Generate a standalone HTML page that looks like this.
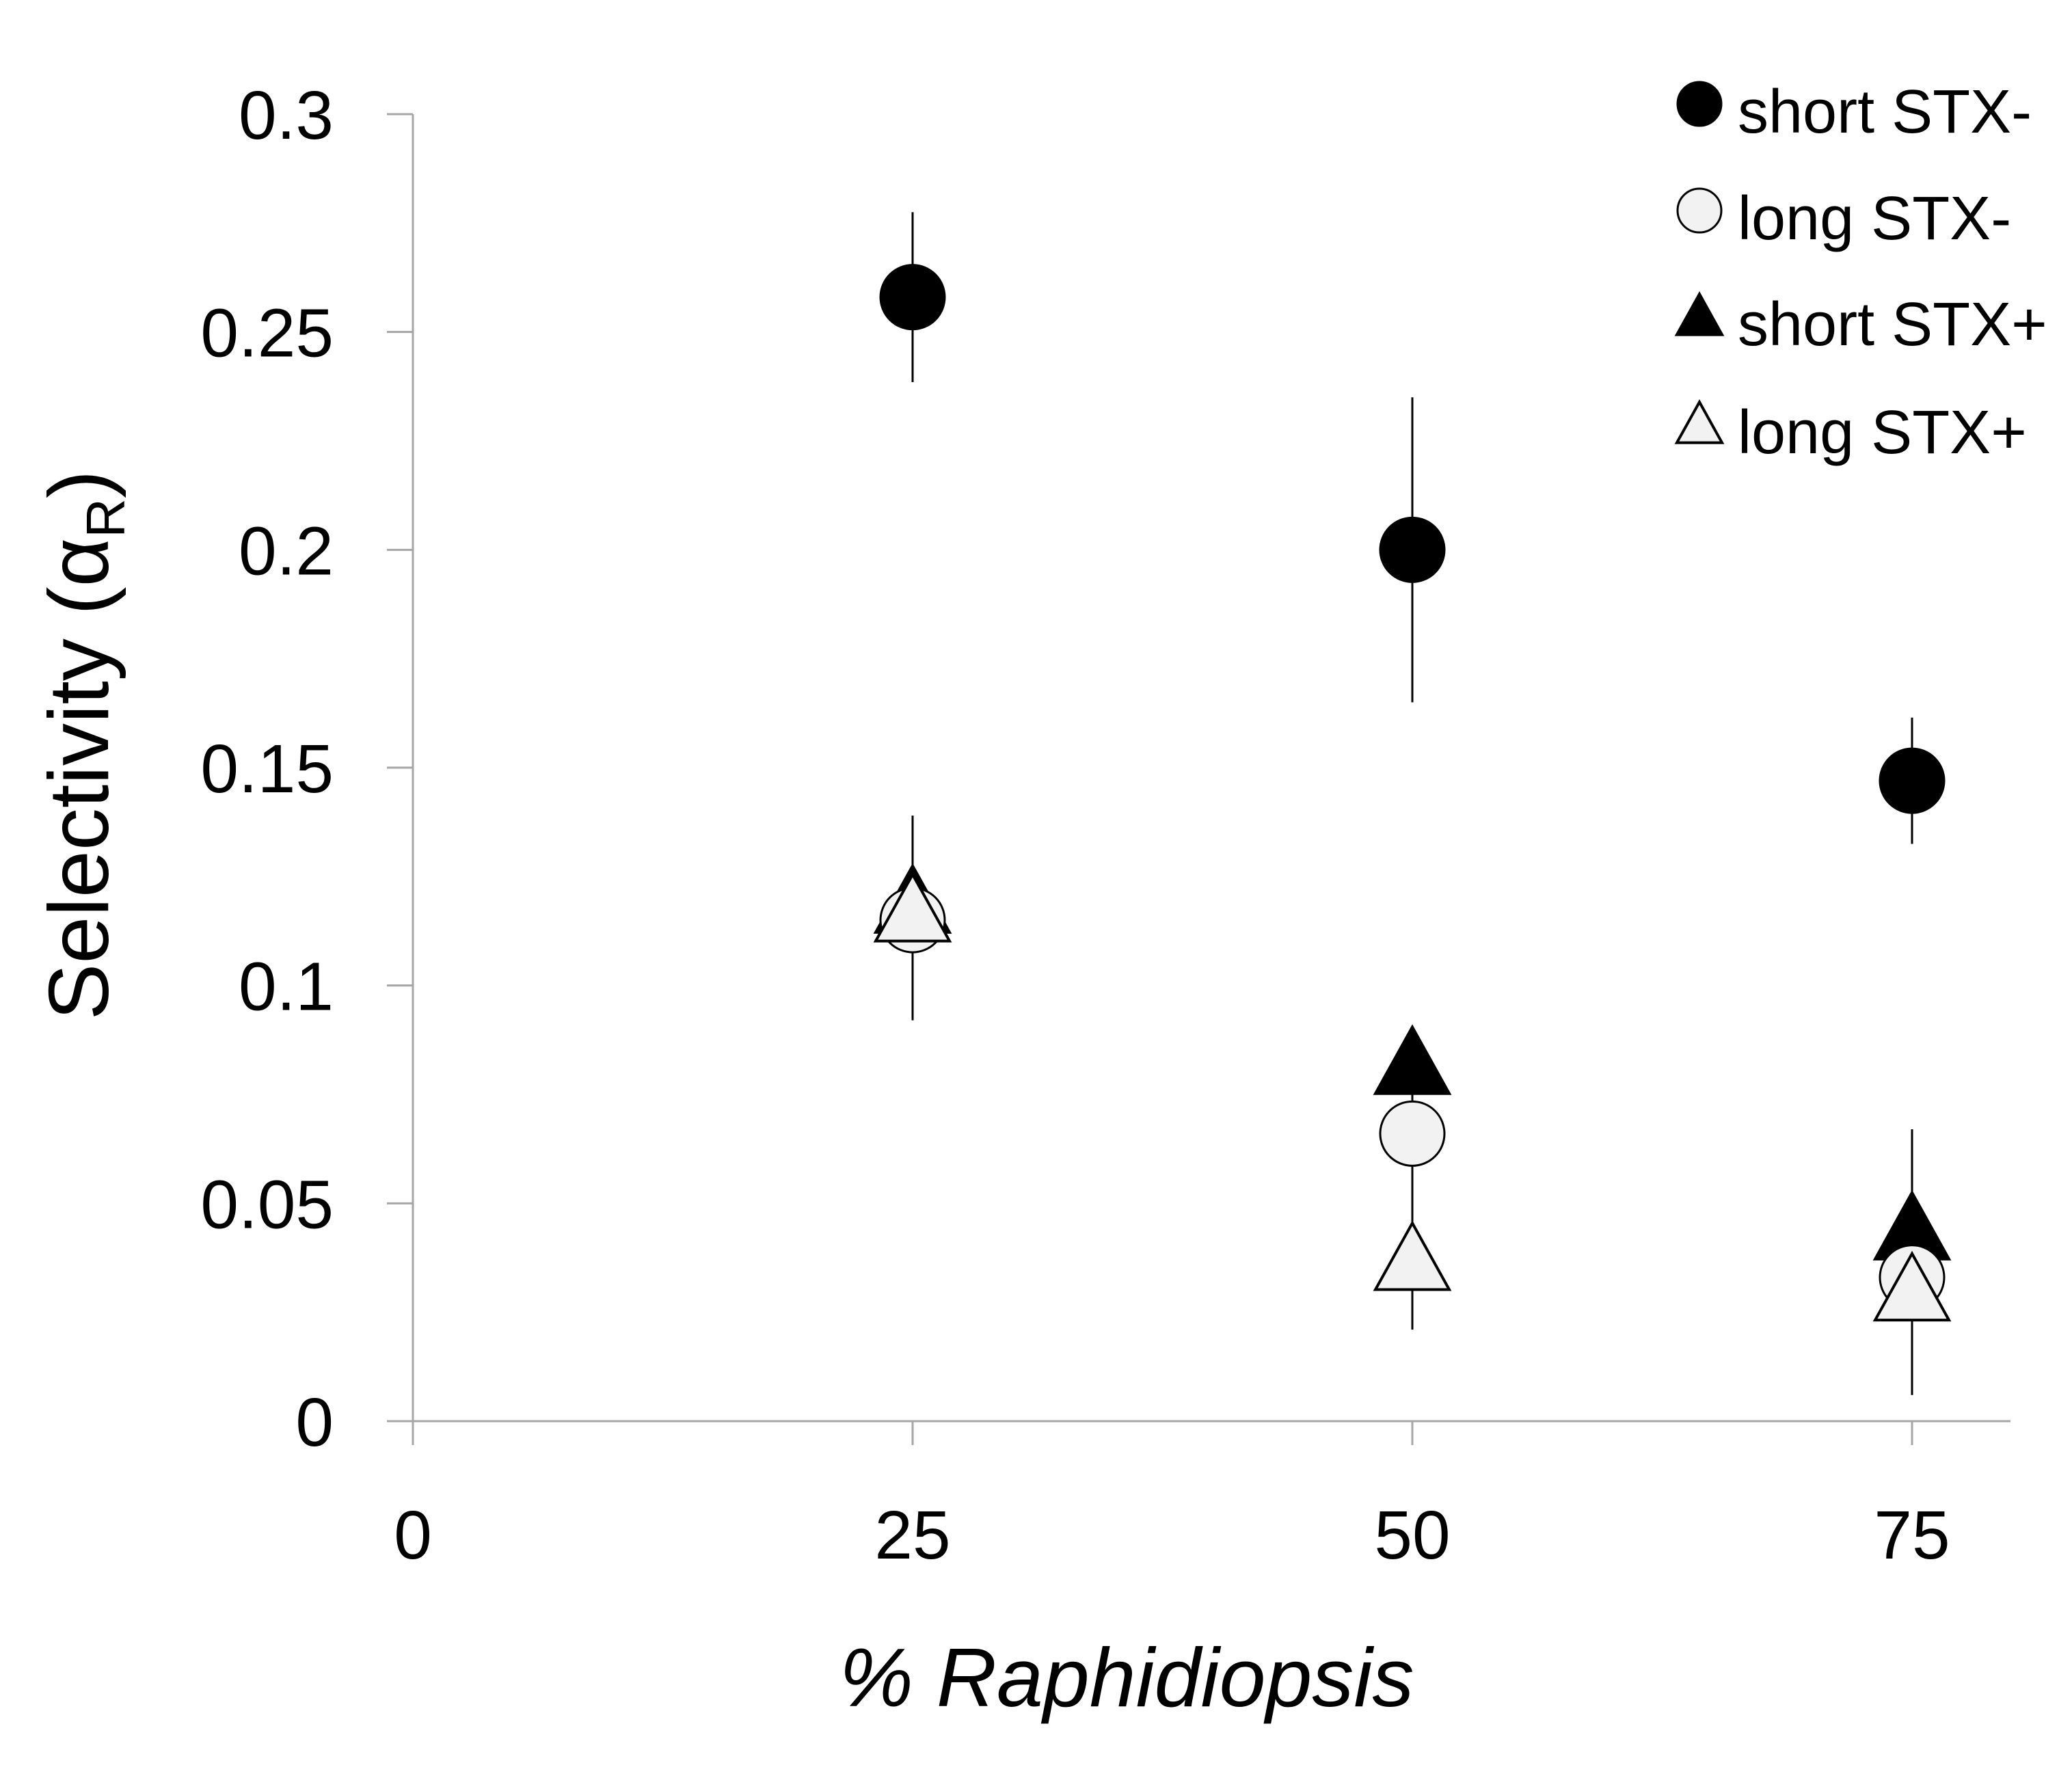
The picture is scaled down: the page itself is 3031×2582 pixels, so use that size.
<!DOCTYPE html>
<html><head><meta charset="utf-8"><style>
html,body{margin:0;padding:0;background:#fff;}
svg{display:block;font-family:"Liberation Sans",sans-serif;}
</style></head><body>
<svg id="chart" width="3031" height="2582" viewBox="0 0 3031 2582" xmlns="http://www.w3.org/2000/svg">
<g id="axes"></g>
<g id="marks"></g>
<g id="legend"></g>
<text x="1648" y="2496" font-size="122" font-style="italic" text-anchor="middle" fill="#000">% Raphidiopsis</text>
<text transform="translate(158,1090) rotate(-90)" font-size="124" text-anchor="middle" fill="#000">Selectivity (α<tspan font-size="80" dy="24">R</tspan><tspan dy="-24">)</tspan></text>
</svg>
<script>
const categories = [25, 50, 75];
const seriesNames = ["short STX-", "long STX-", "short STX+", "long STX+"];
const shortStxMinus = [0.258, 0.200, 0.147];
const shortStxMinusErr = [0.0195, 0.035, 0.0145];
const longStxMinus = [0.115, 0.066, 0.033];
const longStxMinusErr = [0.023, 0.02, 0.015];
const shortStxPlus = [0.118, 0.081, 0.043];
const shortStxPlusErr = [0.021, 0.008, 0.024];
const longStxPlus = [0.116, 0.036, 0.029];
const longStxPlusErr = [0.022, 0.015, 0.023];
const yTicks = [0, 0.05, 0.1, 0.15, 0.2, 0.25, 0.3];
const yTickLabels = ["0", "0.05", "0.1", "0.15", "0.2", "0.25", "0.3"];
const xTicks = [0, 25, 50, 75];
const xTickLabels = ["0", "25", "50", "75"];

const NS = "http://www.w3.org/2000/svg";
const X0 = 604, XPER = 731/25, Y0 = 2079, YTOP = 167;
const xs = v => X0 + v*XPER;
const ys = v => Y0 - v/0.3*(Y0-YTOP);
function mk(tag, attrs, parent){const e=document.createElementNS(NS,tag);for(const k in attrs)e.setAttribute(k,attrs[k]);parent.appendChild(e);return e;}
const axes=document.getElementById('axes'), marks=document.getElementById('marks'), legend=document.getElementById('legend');
const ax='#a6a6a6';
let l=mk('line',{x1:X0,y1:YTOP,x2:X0,y2:Y0,stroke:ax,'stroke-width':3},axes);


l=mk('line',{x1:X0,y1:Y0,x2:2941,y2:Y0,stroke:ax,'stroke-width':3},axes);


yTicks.forEach((v,i)=>{
  const t=mk('line',{x1:566,y1:ys(v),x2:X0,y2:ys(v),stroke:ax,'stroke-width':3},axes);
  
  
  const tx=mk('text',{x:488,y:ys(v)+36,'font-size':100,'text-anchor':'end',fill:'#000'},axes);
  tx.textContent=yTickLabels[i];
  
  
});
xTicks.forEach((v,i)=>{
  const t=mk('line',{x1:xs(v),y1:Y0,x2:xs(v),y2:2114,stroke:ax,'stroke-width':3},axes);
  
  
  const tx=mk('text',{x:xs(v),y:2280,'font-size':100,'text-anchor':'middle',fill:'#000'},axes);
  tx.textContent=xTickLabels[i];
  
  
});
function circle(cx,cy,r,fill,g){return mk('circle',{cx:cx,cy:cy,r:r,fill:fill,stroke:'#000','stroke-width':3},g);}
function tri(cx,cy,s,fill,g){const h=s*0.9;return mk('polygon',{points:`${cx},${cy-h*0.62} ${cx-s/2},${cy+h*0.38} ${cx+s/2},${cy+h*0.38}`,fill:fill,stroke:'#000','stroke-width':4},g);}
const series=[
 {name:'long-stx-plus',vals:longStxPlus,err:longStxPlusErr,shape:'tri',fill:'#f2f2f2'},
 {name:'short-stx-plus',vals:shortStxPlus,err:shortStxPlusErr,shape:'tri',fill:'#000'},
 {name:'long-stx-minus',vals:longStxMinus,err:longStxMinusErr,shape:'circ',fill:'#f2f2f2'},
 {name:'short-stx-minus',vals:shortStxMinus,err:shortStxMinusErr,shape:'circ',fill:'#000'},
];
series.forEach(s=>{categories.forEach((c,i)=>{
  const e=mk('line',{x1:xs(c),x2:xs(c),y1:ys(s.vals[i]+s.err[i]),y2:ys(s.vals[i]-s.err[i]),stroke:'#000','stroke-width':3},marks);
  
  
});});
const order=[series[1],series[3],series[2],series[0]];
order.forEach(s=>{categories.forEach((c,i)=>{
  const m = s.shape==='circ'? circle(xs(c),ys(s.vals[i]),47,s.fill,marks) : tri(xs(c),ys(s.vals[i]),108,s.fill,marks);
  
  
});});
const legRows=[194,350,505,663];
const legFills=['#000','#f2f2f2','#000','#f2f2f2'];
const legShapes=['circ','circ','tri','tri'];
seriesNames.forEach((n,i)=>{
  const cy=legRows[i]-42;
  const m= legShapes[i]==='circ'? circle(2486,cy,32,legFills[i],legend) : tri(2486,cy+4,66,legFills[i],legend);
  
  
  const t=mk('text',{x:2542,y:legRows[i],'font-size':90,fill:'#000'},legend);
  t.textContent=n;
  
  
});
</script>
</body></html>
